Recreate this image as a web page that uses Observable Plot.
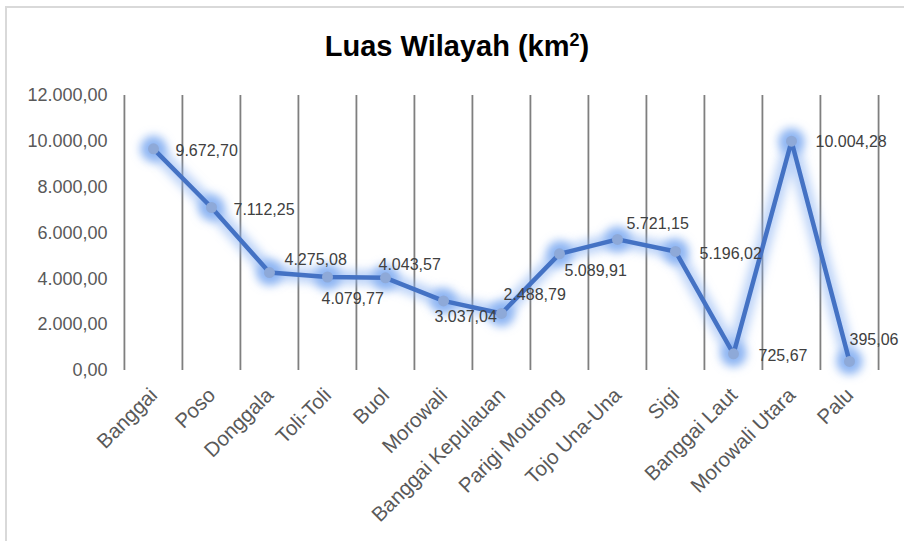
<!DOCTYPE html>
<html>
<head>
<meta charset="utf-8">
<script src="https://cdn.jsdelivr.net/npm/d3@7"></script>
<script src="https://cdn.jsdelivr.net/npm/@observablehq/plot@0.6"></script>
<style>
  html, body { margin: 0; padding: 0; background: #fff; }
  #wrap { position: relative; width: 904px; height: 541px; overflow: hidden; font-family: "Liberation Sans", Arial, sans-serif; }
  #frame { position: absolute; left: 5px; top: 6px; width: 910px; height: 560px; border-top: 2px solid #d9d9d9; border-left: 2px solid #d9d9d9; }
  #title { position: absolute; left: 0; top: 32px; width: 914px; text-align: center; font-weight: bold; font-size: 29px; line-height: 29px; color: #000; }
  #chart { position: absolute; left: 0; top: 80px; }
</style>
</head>
<body>
<div id="wrap">
  <div id="frame"></div>
  <div id="title">Luas Wilayah (km<sup style="font-size:18px;vertical-align:10px;line-height:0">2</sup>)</div>
  <div id="chart"></div>
</div>
<script>
// Data
const categories = ["Banggai", "Poso", "Donggala", "Toli-Toli", "Buol", "Morowali", "Banggai Kepulauan", "Parigi Moutong", "Tojo Una-Una", "Sigi", "Banggai Laut", "Morowali Utara", "Palu"];
const luas = [9672.70, 7112.25, 4275.08, 4079.77, 4043.57, 3037.04, 2488.79, 5089.91, 5721.15, 5196.02, 725.67, 10004.28, 395.06];
const yTicks = [0, 2000, 4000, 6000, 8000, 10000, 12000];

// Label placement (styling, not data): [dx, dy] of label's left edge relative to the point
const labelOffsets = [[22, 2], [22, 2], [15, -13], [-6, 22], [-7, -13], [-9, 16], [2, -19], [5, 17], [9, -16], [24, 2], [25, 2], [24, 1], [0, -22]];

const table = categories.map((c, i) => ({cat: c, val: luas[i], dx: labelOffsets[i][0], dy: labelOffsets[i][1]}));

const idLocale = d3.formatLocale({decimal: ",", thousands: ".", grouping: [3], currency: ["", ""]});
const fmt = idLocale.format(",.2f");

const W = 904, H = 461;
const mL = 123, mR = 25, mT = 15, mB = 171;
const bw = (W - mL - mR) / categories.length;
const GLOW = "#86b0f2";

const marks = [
  Plot.ruleX(categories, {x: d => d, dx: -bw / 2, stroke: "#7f7f7f", strokeWidth: 1.8}),
  Plot.ruleX([categories[categories.length - 1]], {x: d => d, dx: bw / 2, stroke: "#7f7f7f", strokeWidth: 1.8}),
  Plot.axisY({ticks: yTicks, tickFormat: fmt, tickSize: 0, tickPadding: 16, fontSize: 18, fill: "#595959", label: null}),
  Plot.text(categories, {x: d => d, frameAnchor: "bottom", textAnchor: "end", rotate: -45, dx: 5, dy: 26, fontSize: 20.5, fill: "#595959"}),
  // glow layer
  Plot.line(table, {x: "cat", y: "val", stroke: GLOW, strokeWidth: 15, strokeOpacity: 0.55}),
  Plot.dot(table, {x: "cat", y: "val", r: 13, fill: GLOW, fillOpacity: 0.9, stroke: "none"}),
  Plot.line(table, {x: "cat", y: "val", stroke: "#4472c4", strokeWidth: 4.5}),
  Plot.dot(table, {x: "cat", y: "val", r: 5.5, fill: "#8ea9d8", stroke: "none"}),
  ...table.map(d => Plot.text([d], {x: "cat", y: "val", text: dd => fmt(dd.val), textAnchor: "start", dx: d.dx, dy: d.dy, fontSize: 16, fill: "#404040"}))
];

const svg = Plot.plot({
  width: W,
  height: H,
  marginLeft: mL,
  marginRight: mR,
  marginTop: mT,
  marginBottom: mB,
  style: {background: "transparent", fontFamily: "'Liberation Sans', Arial, sans-serif", fontSize: "18px", color: "#595959", overflow: "visible"},
  x: {type: "point", domain: categories, padding: 0.5, axis: null},
  y: {domain: [0, 12000], axis: null},
  marks
});

// add blur filter to glow layers
const ns = "http://www.w3.org/2000/svg";
const defs = document.createElementNS(ns, "defs");
const filter = document.createElementNS(ns, "filter");
filter.setAttribute("id", "glowBlur");
filter.setAttribute("filterUnits", "userSpaceOnUse");
filter.setAttribute("x", "0"); filter.setAttribute("y", "0");
filter.setAttribute("width", String(W)); filter.setAttribute("height", String(H));
const blur = document.createElementNS(ns, "feGaussianBlur");
blur.setAttribute("stdDeviation", "5");
filter.appendChild(blur);
defs.appendChild(filter);
svg.insertBefore(defs, svg.firstChild);
svg.querySelectorAll("g").forEach(g => {
  const f = (g.getAttribute("fill") || "").toLowerCase();
  const s = (g.getAttribute("stroke") || "").toLowerCase();
  if (f === GLOW || s === GLOW) g.setAttribute("filter", "url(#glowBlur)");
});

document.getElementById("chart").appendChild(svg);
</script>
</body>
</html>
